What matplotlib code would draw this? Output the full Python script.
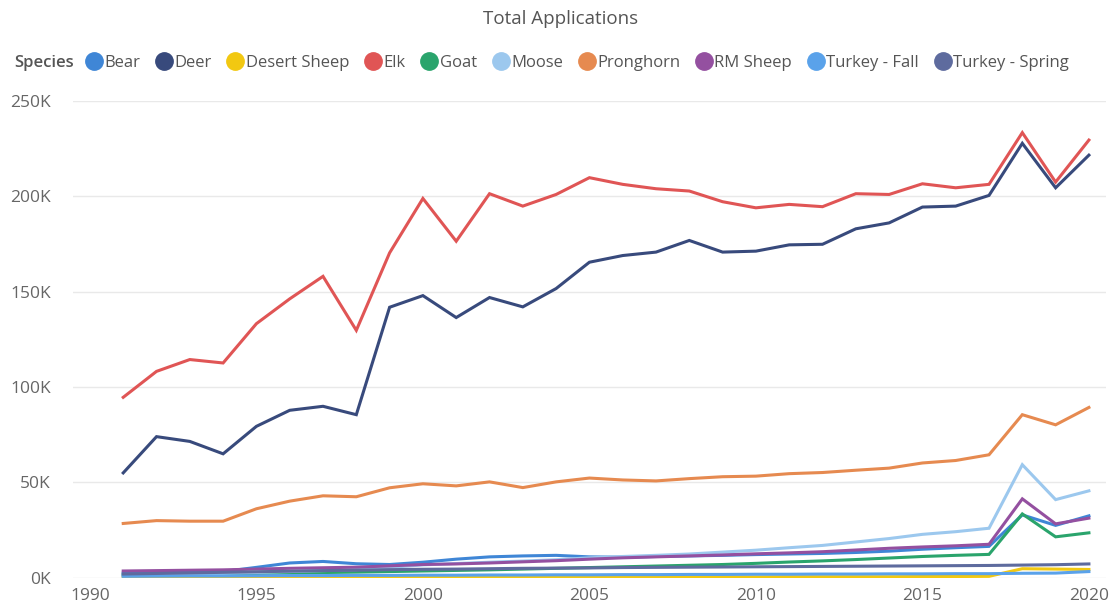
import matplotlib.pyplot as plt
from matplotlib.lines import Line2D
from matplotlib.ticker import FuncFormatter

plt.rcParams['font.family'] = ['Open Sans', 'DejaVu Sans']

years = list(range(1991, 2021))

# values in thousands of applications
bear = [2.5, 2.7, 3.0, 3.3, 5.5, 7.8, 8.6, 7.4, 7.0, 8.2, 9.8, 11.0, 11.5, 11.8, 11.0,
        10.8, 11.2, 11.5, 11.8, 12.2, 12.5, 12.8, 13.3, 14.0, 15.0, 15.8, 16.5, 33.0, 27.5, 32.5]
deer = [55.0, 74.0, 71.5, 65.0, 79.4, 87.8, 89.9, 85.5, 141.8, 147.9, 136.4, 146.9, 142.0, 151.6, 165.4,
        168.9, 170.7, 176.8, 170.7, 171.2, 174.5, 174.8, 182.9, 186.0, 194.3, 194.8, 200.4, 227.7, 204.4, 221.5]
desert_sheep = [0.3, 0.3, 0.3, 0.3, 0.3, 0.3, 0.3, 0.3, 0.3, 0.3, 0.4, 0.4, 0.4, 0.4, 0.4,
                0.5, 0.5, 0.5, 0.5, 0.5, 0.6, 0.6, 0.6, 0.6, 0.7, 0.7, 0.8, 4.8, 4.6, 4.4]
elk = [94.6, 108.2, 114.4, 112.6, 133.2, 146.2, 158.0, 129.7, 170.3, 198.8, 176.4, 201.3, 194.8, 200.9, 209.7,
       206.2, 203.9, 202.7, 197.1, 193.9, 195.7, 194.5, 201.3, 200.9, 206.5, 204.4, 206.2, 233.3, 207.4, 229.4]
goat = [1.5, 1.7, 1.9, 2.1, 2.3, 2.5, 2.8, 3.0, 3.3, 3.6, 3.9, 4.2, 4.6, 5.0, 5.4,
        5.8, 6.2, 6.6, 7.0, 7.6, 8.3, 8.9, 9.6, 10.4, 11.2, 11.8, 12.3, 33.5, 21.5, 23.6]
moose = [1.5, 1.8, 2.0, 2.3, 2.8, 3.3, 3.8, 4.3, 5.5, 6.8, 7.5, 8.2, 8.8, 9.5, 10.5,
         11.2, 11.8, 12.5, 13.5, 14.5, 15.8, 17.0, 18.8, 20.6, 22.8, 24.2, 26.0, 59.3, 41.0, 45.6]
pronghorn = [28.5, 30.0, 29.7, 29.7, 36.2, 40.2, 43.0, 42.5, 47.2, 49.3, 48.2, 50.3, 47.3, 50.3, 52.3,
             51.3, 50.8, 52.0, 53.0, 53.3, 54.6, 55.2, 56.4, 57.5, 60.2, 61.5, 64.5, 85.5, 80.2, 89.3]
rm_sheep = [3.6, 3.8, 4.0, 4.2, 4.6, 5.0, 5.3, 5.6, 6.3, 7.0, 7.3, 7.8, 8.4, 9.0, 9.8,
            10.5, 11.0, 11.5, 12.0, 12.6, 13.1, 13.7, 14.6, 15.5, 16.2, 16.8, 17.6, 41.4, 28.3, 31.3]
turkey_fall = [0.8, 0.9, 1.0, 1.0, 1.1, 1.2, 1.2, 1.3, 1.3, 1.4, 1.4, 1.5, 1.5, 1.6, 1.6,
               1.7, 1.7, 1.8, 1.8, 1.9, 1.9, 2.0, 2.0, 2.1, 2.1, 2.2, 2.2, 2.4, 2.5, 3.3]
turkey_spring = [2.0, 2.3, 2.6, 2.9, 3.2, 3.5, 3.8, 4.0, 4.3, 4.5, 4.6, 4.8, 5.0, 5.1, 5.2,
                 5.4, 5.5, 5.6, 5.7, 5.8, 5.9, 6.0, 6.1, 6.2, 6.3, 6.4, 6.5, 6.7, 6.9, 7.3]

names = ["Bear", "Deer", "Desert Sheep", "Elk", "Goat", "Moose", "Pronghorn",
         "RM Sheep", "Turkey - Fall", "Turkey - Spring"]
series = [bear, deer, desert_sheep, elk, goat, moose, pronghorn, rm_sheep, turkey_fall, turkey_spring]
colors = ["#3F86D6", "#384A7C", "#F2C811", "#E05555", "#2AA46C", "#9CC8EE",
          "#E68A50", "#9450A0", "#5AA2EA", "#5E6B9E"]

fig = plt.figure(figsize=(11.1, 6.07), dpi=100)
ax = fig.add_axes([0.066, 0.048, 0.93, 0.786])

for vals, c in zip(series, colors):
    ax.plot(years, [v * 1000 for v in vals], color=c, lw=2.2, solid_joinstyle='miter')

ax.set_xlim(1989.5, 2020.5)
ax.set_ylim(0, 250000)
ax.set_xticks([1990, 1995, 2000, 2005, 2010, 2015, 2020])
ax.set_yticks([0, 50000, 100000, 150000, 200000, 250000])
ax.yaxis.set_major_formatter(FuncFormatter(lambda v, p: f"{int(v / 1000)}K"))
ax.grid(axis='y', color='#E9E9E9', lw=1)
ax.set_axisbelow(True)
for s in ax.spines.values():
    s.set_visible(False)
ax.tick_params(length=0, labelsize=12.5, colors='#666666')
ax.tick_params(axis='y', pad=16)
ax.tick_params(axis='x', pad=7)

fig.text(0.505, 0.968, "Total Applications", ha='center', va='center', fontsize=13.5, color='#555555')

fig.text(0.013, 0.896, "Species", ha='left', va='center', fontsize=12, color='#555555',
         fontweight='semibold')
handles = [Line2D([], [], marker='o', ls='', markersize=12.5, color=c) for c in colors]
fig.legend(handles, names, loc='center left', bbox_to_anchor=(0.079, 0.896), ncol=10,
           frameon=False, fontsize=12, handlelength=0.75, handletextpad=0.25,
           columnspacing=1.05, labelcolor='#555555', borderaxespad=0, borderpad=0)

fig.savefig("out.png", dpi=100)
